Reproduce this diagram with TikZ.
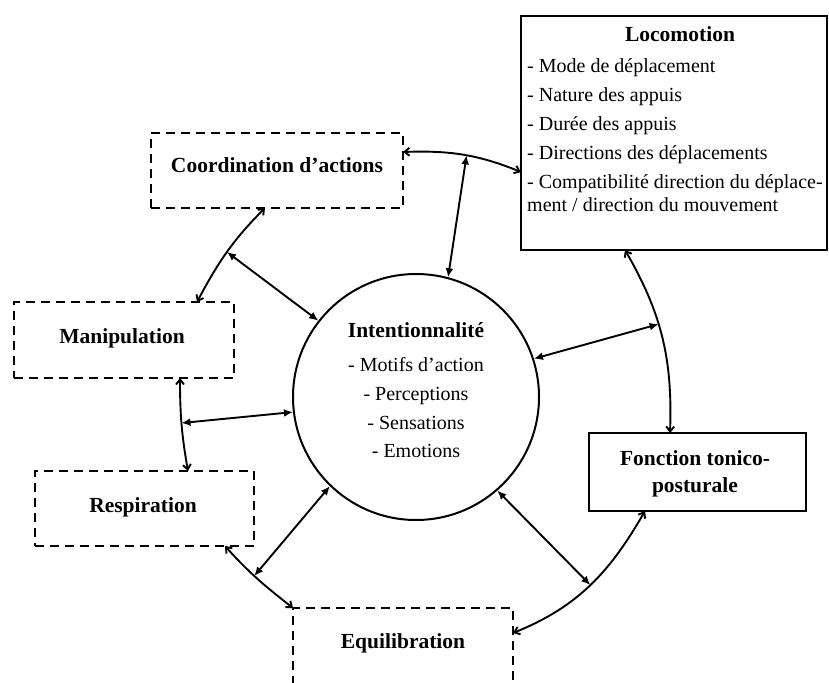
\documentclass[tikz,border=0pt]{standalone}
\usepackage{fontspec}
\setmainfont{Liberation Serif}
\usetikzlibrary{arrows.meta,calc}
\begin{document}
\begin{tikzpicture}[x=1pt,y=1pt,
 solidbox/.style={draw, line width=2.8pt, inner sep=0pt, outer sep=0pt},
 dbox/.style={draw, line width=2.8pt, dash pattern=on 9pt off 6pt, inner sep=0pt, outer sep=0pt},
 ttl/.style={font=\fontsize{21.5}{24}\selectfont\bfseries, inner sep=0pt, anchor=base},
 ltxt/.style={font=\fontsize{20}{22}\selectfont, inner sep=0pt, anchor=base west},
 ctxt/.style={font=\fontsize{20}{22}\selectfont, inner sep=0pt, anchor=base},
 arcline/.style={line width=1.9pt, {Straight Barb[length=5pt,width=8pt]}-{Straight Barb[length=5pt,width=8pt]}},
 spoke/.style={line width=1.9pt, {Latex[length=9pt,width=8pt]}-{Latex[length=9pt,width=8pt]}},
]
\useasboundingbox (0,0) rectangle (829,-682);
\fill[white] (0,0) rectangle (829,-682);
\clip (0,0) rectangle (829,-682);

% boxes
\node[solidbox, minimum width=306pt, minimum height=234pt] (loc) at (674,-133) {};
\node[solidbox, minimum width=217pt, minimum height=78pt] (fonct) at (697.5,-472) {};
\node[dbox, minimum width=252pt, minimum height=75pt] (coord) at (277,-170.5) {};
\node[dbox, minimum width=220pt, minimum height=76pt] (manip) at (124,-340) {};
\node[dbox, minimum width=219pt, minimum height=75pt] (resp) at (144.5,-508.5) {};
\node[dbox, minimum width=220pt, minimum height=152pt] (equi) at (403,-684) {};
\node[circle, draw, line width=2pt, minimum size=246pt, inner sep=0pt] (intent) at (416,-397) {};

% texts
\node[ttl] (tloc) at (680,-42) {Locomotion};
\node[ltxt] (l1) at (527,-73) {- Mode de déplacement};
\node[ltxt] (l2) at (527,-102) {- Nature des appuis};
\node[ltxt] (l3) at (527,-130) {- Durée des appuis};
\node[ltxt] (l4) at (527,-159) {- Directions des déplacements};
\node[ltxt] (l5) at (527,-188) {- Compatibilité direction du déplace-};
\node[ltxt] (l6) at (527,-211) {ment / direction du mouvement};

\node[ttl] (tint) at (416,-337) {Intentionnalité};
\node[ctxt] (i1) at (416,-371) {- Motifs d'action};
\node[ctxt] (i2) at (416,-400) {- Perceptions};
\node[ctxt] (i3) at (416,-429) {- Sensations};
\node[ctxt] (i4) at (416,-457) {- Emotions};

\node[ttl] (tcoord) at (277,-172) {Coordination d'actions};
\node[ttl] (tmanip) at (122,-343) {Manipulation};
\node[ttl] (tresp) at (143,-512) {Respiration};
\node[ttl] (tequi) at (403,-648) {Equilibration};
\node[ttl] (tf1) at (695,-465) {Fonction tonico-};
\node[ttl] (tf2) at (695,-492) {posturale};

% ring arcs
\draw[arcline] ($(coord.north east)+(0,-19)$) to[out=2,in=158] coordinate[pos=0.53] (pA) ($(loc.north west)+(0,-156)$);
\draw[arcline] ($(coord.south west)+(114,0)$) to[out=225,in=62] coordinate[pos=0.5] (pB) ($(manip.north west)+(183,0)$);
\draw[arcline] ($(manip.south west)+(166,0)$) to[out=270,in=100] coordinate[pos=0.48] (pC) ($(resp.north west)+(153,0)$);
\draw[arcline] ($(resp.south east)+(-29,0)$) to[out=-48,in=142] coordinate[pos=0.45] (pD) (equi.north west);
\draw[arcline] ($(fonct.south west)+(56,0)$) to[out=-120,in=22] coordinate[pos=0.5] (pE) ($(equi.north east)+(0,-25)$);
\draw[arcline] ($(loc.south west)+(104,0)$) to[out=-60,in=88] coordinate[pos=0.42] (pF) ($(fonct.north west)+(81,0)$);

% spokes
\draw[spoke] (pA) -- (intent.75.5);
\draw[spoke] (pB) -- (intent.142);
\draw[spoke] (pC) -- (intent.187);
\draw[spoke] (pD) -- (intent.226);
\draw[spoke] (pE) -- (intent.311);
\draw[spoke] (pF) -- (intent.18);
\end{tikzpicture}
\end{document}
